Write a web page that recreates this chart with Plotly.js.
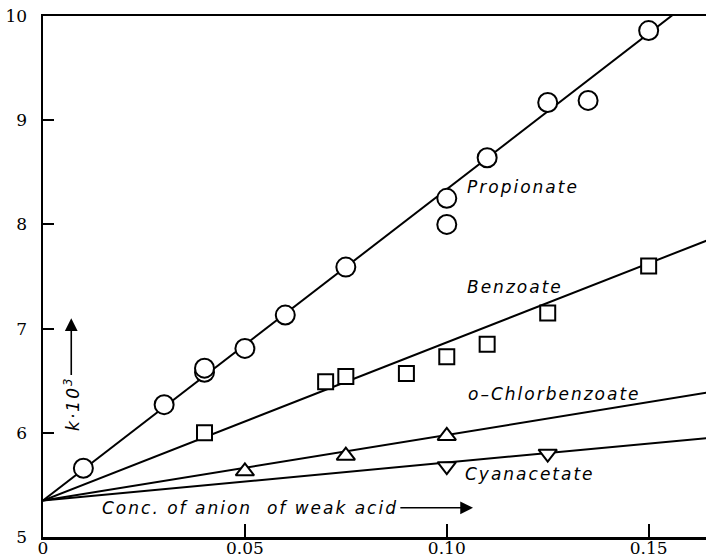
<!DOCTYPE html>
<html><head><meta charset="utf-8">
<script src="https://cdn.plot.ly/plotly-3.0.1.min.js"></script>
<style>
html,body{margin:0;padding:0;background:#fff;}
#chart{width:706px;height:558px;}
.annotation-text{letter-spacing:2px;}
</style></head><body><div id="chart"></div>
<script>
// Measured points (concentration of anion vs k*10^3)
const propionateX = [0.01, 0.03, 0.04, 0.04, 0.05, 0.06, 0.075, 0.10, 0.10, 0.11, 0.125, 0.135, 0.15];
const propionateY = [5.66, 6.27, 6.58, 6.62, 6.81, 7.13, 7.59, 8.25, 8.00, 8.64, 9.17, 9.19, 9.86];
const benzoateX = [0.04, 0.07, 0.075, 0.09, 0.10, 0.11, 0.125, 0.15];
const benzoateY = [6.00, 6.49, 6.54, 6.57, 6.73, 6.85, 7.15, 7.60];
const chlorbenzoateX = [0.05, 0.075, 0.10];
const chlorbenzoateY = [5.63, 5.78, 5.97];
const cyanacetateX = [0.10, 0.125];
const cyanacetateY = [5.68, 5.80];

// Fitted straight lines (from common intercept)
const fitX = [0, 0.17];
const propionateFitY = [5.35, 10.43];
const benzoateFitY = [5.35, 7.93];
const chlorbenzoateFitY = [5.35, 6.42];
const cyanacetateFitY = [5.35, 5.97];

// Axis ticks
const xTickVals = [0, 0.05, 0.10, 0.15];
const xTickText = ['0', '0.05', '0.10', '0.15'];
const yTickVals = [5, 6, 7, 8, 9, 10];
const yTickText = ['5', '6', '7', '8', '9', '10'];

// Labels
const seriesLabels = ['Propionate', 'Benzoate', 'o\u2013Chlorbenzoate', 'Cyanacetate'];
const xLabel = 'Conc. of anion  of weak acid';
const yLabel = 'k\u00b710<sup>3</sup>';

const lineStyle = {color: '#000', width: 2};
function fitTrace(y) {
  return {x: fitX, y: y, mode: 'lines', line: lineStyle, hoverinfo: 'skip', showlegend: false};
}
function ptTrace(x, y, symbol, size) {
  return {x: x, y: y, mode: 'markers', showlegend: false,
    marker: {symbol: symbol, size: size, color: '#fff', line: {color: '#000', width: 2}}};
}

const data = [
  fitTrace(propionateFitY), fitTrace(benzoateFitY), fitTrace(chlorbenzoateFitY), fitTrace(cyanacetateFitY),
  ptTrace(propionateX, propionateY, 'circle', 19),
  ptTrace(benzoateX, benzoateY, 'square', 15),
  ptTrace(chlorbenzoateX, chlorbenzoateY, 'triangle-up', 16),
  ptTrace(cyanacetateX, cyanacetateY, 'triangle-down', 16)
];

const labFont = {family: 'DejaVu Sans', size: 17, color: '#000', style: 'italic'};
function lab(text, x, y) {
  return {text: text, x: x, y: y, xref: 'x', yref: 'y', showarrow: false,
    xanchor: 'left', yanchor: 'middle', font: labFont};
}

const annotations = [
  lab(seriesLabels[0], 0.1045, 8.36),
  lab(seriesLabels[1], 0.1045, 7.40),
  lab(seriesLabels[2], 0.1047, 6.37),
  lab(seriesLabels[3], 0.1040, 5.60),
  // x-axis caption with its arrow (text sits at the arrow tail)
  {text: xLabel, x: 0.1065, y: 5.28, ax: 0.0885, ay: 5.28, axref: 'x', ayref: 'y', xref: 'x', yref: 'y',
   xanchor: 'right', yanchor: 'middle', showarrow: true, arrowhead: 2, arrowsize: 1.6, arrowwidth: 1.6,
   arrowcolor: '#000', standoff: 0, font: labFont},
  // y-axis caption, rotated, with its arrow
  {text: yLabel, x: 0.007, y: 7.10, ax: 0.007, ay: 6.28, axref: 'x', ayref: 'y', xref: 'x', yref: 'y',
   textangle: -90, xanchor: 'center', yanchor: 'middle', showarrow: true, arrowhead: 2, arrowsize: 1.6,
   arrowwidth: 1.6, arrowcolor: '#000', standoff: 0, font: labFont}
];

const tickFont = {family: 'DejaVu Serif', size: 17, color: '#000'};
const layout = {
  width: 706, height: 558,
  margin: {l: 43, r: 0, t: 16, b: 21},
  paper_bgcolor: '#fff', plot_bgcolor: '#fff',
  showlegend: false,
  xaxis: {range: [0, 0.1642], tickvals: xTickVals, ticktext: xTickText, ticks: 'inside', ticklen: 13,
    tickwidth: 2, tickcolor: '#000', showline: true, linecolor: '#000', linewidth: 2.5, mirror: true,
    showgrid: false, zeroline: false, tickfont: tickFont, ticklabelstandoff: -6, fixedrange: true},
  yaxis: {range: [5, 10], tickvals: yTickVals, ticktext: yTickText, ticks: 'inside', ticklen: 11,
    tickwidth: 2, tickcolor: '#000', showline: true, linecolor: '#000', linewidth: 2.5, mirror: false,
    showgrid: false, zeroline: false, tickfont: tickFont, ticklabelstandoff: 10, fixedrange: true},
  annotations: annotations
};

Plotly.newPlot('chart', data, layout, {displayModeBar: false, staticPlot: true});
</script></body></html>
